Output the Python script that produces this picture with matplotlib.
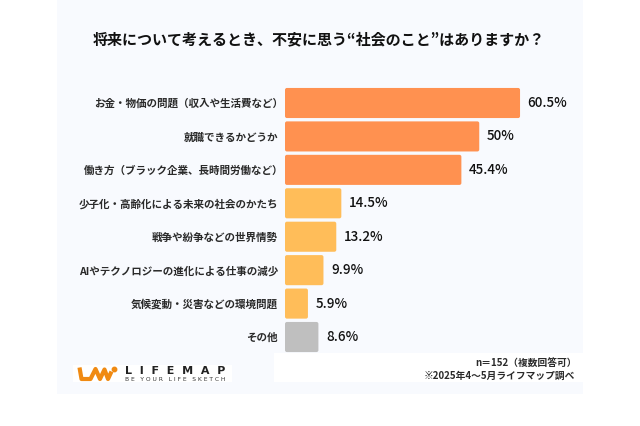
import matplotlib
matplotlib.use("Agg")
import matplotlib.pyplot as plt
from matplotlib.patches import Rectangle, FancyBboxPatch
from matplotlib.lines import Line2D

plt.rcParams['font.family'] = ['Noto Sans CJK JP', 'DejaVu Sans']

categories = ["お金・物価の問題（収入や生活費など）", "就職できるかどうか",
              "働き方（ブラック企業、長時間労働など）", "少子化・高齢化による未来の社会のかたち",
              "戦争や紛争などの世界情勢", "AIやテクノロジーの進化による仕事の減少",
              "気候変動・災害などの環境問題", "その他"]
values = [60.5, 50, 45.4, 14.5, 13.2, 9.9, 5.9, 8.6]
value_labels = ["60.5%", "50%", "45.4%", "14.5%", "13.2%", "9.9%", "5.9%", "8.6%"]
colors = ["#FF9150"] * 3 + ["#FFBD59"] * 4 + ["#BFBFBF"]
title = "将来について考えるとき、不安に思う“社会のこと”はありますか？"
note1 = "n＝152（複数回答可）"
note2 = "※2025年4〜5月ライフマップ調べ"

W, H = 640, 426
fig = plt.figure(figsize=(W / 100, H / 100), dpi=100, facecolor="white")

def px(x, y):
    return x / W, 1 - y / H

bg = "#F8FAFE"
fig.add_artist(Rectangle(px(57, 394), 526 / W, 394 / H, transform=fig.transFigure, fc=bg, ec="none", zorder=-5))
fig.add_artist(Rectangle(px(274, 382), 309 / W, 29 / H, transform=fig.transFigure, fc="white", ec="none", zorder=-4))
fig.add_artist(Rectangle(px(73, 382), 159 / W, 17 / H, transform=fig.transFigure, fc="white", ec="none", zorder=-4))

pitch = 33.43
top = 103 - pitch / 2
ax_h = pitch * 8
ax_w = 298
xscale = 3.885
ax = fig.add_axes([285 / W, 1 - (top + ax_h) / H, ax_w / W, ax_h / H])
ax.patch.set_alpha(0)
ax.set_xlim(0, ax_w / xscale)
ax.set_ylim(7.5, -0.5)
bar_h = 0.9
for i, (v, c) in enumerate(zip(values, colors)):
    ax.add_patch(FancyBboxPatch((0, i - bar_h / 2), v, bar_h,
                                boxstyle="round,pad=0,rounding_size=0.5",
                                mutation_aspect=xscale / pitch, fc=c, ec="none", lw=0))
ax.set_xticks([])
ax.set_yticks(range(len(categories)))
ax.set_yticklabels(categories, fontsize=7.6, color="#2a2a2a", fontweight="bold")
ax.tick_params(axis="y", length=0, pad=5)
for i, tick in enumerate(ax.yaxis.get_major_ticks()):
    if categories[i].endswith("）"):
        tick.set_pad(1.4)
for s in ax.spines.values():
    s.set_visible(False)
for i, (v, lab) in enumerate(zip(values, value_labels)):
    ax.annotate(lab, (v, i), xytext=(7.5, 0), textcoords="offset pixels", va="center", ha="left",
                fontsize=9.7, color="#111111", fontweight="medium")

x, y = px(319, 39)
fig.text(x, y, title, ha="center", va="center", fontsize=10.85, color="#111111", fontweight="bold")
x, y = px(577, 363)
fig.text(x, y, note1, ha="right", va="center", fontsize=7, color="#2a2a2a", fontweight="bold")
x, y = px(575, 376)
fig.text(x, y, note2, ha="right", va="center", fontsize=7, color="#2a2a2a", fontweight="bold")

# logo mark
lx = [79.5, 81.5, 90.5, 95.5, 100, 104.5, 108, 111.5]
ly = [367.5, 379, 379, 369, 379, 369.5, 379, 371.5]
fig.add_artist(Line2D([a / W for a in lx], [1 - b / H for b in ly], transform=fig.transFigure,
                      color="#F08A12", lw=3.0, solid_joinstyle="round", solid_capstyle="butt"))
fig.add_artist(Line2D([113.5 / W], [1 - 368.5 / H], transform=fig.transFigure, marker="o", ms=3.2,
                      color="#F08A12", ls="none"))
x, y = px(125, 370.5)
fig.text(x, y, "L  I  F  E  M  A  P", ha="left", va="center", fontsize=8, fontweight="bold",
         color="#222222", family=["DejaVu Sans"])
x, y = px(125, 379.5)
fig.text(x, y, "B E   Y O U R   L I F E   S K E T C H", ha="left", va="center", fontsize=4.3, color="#333333",
         family=["DejaVu Sans"])

fig.savefig("out.png", dpi=100, facecolor="white")
